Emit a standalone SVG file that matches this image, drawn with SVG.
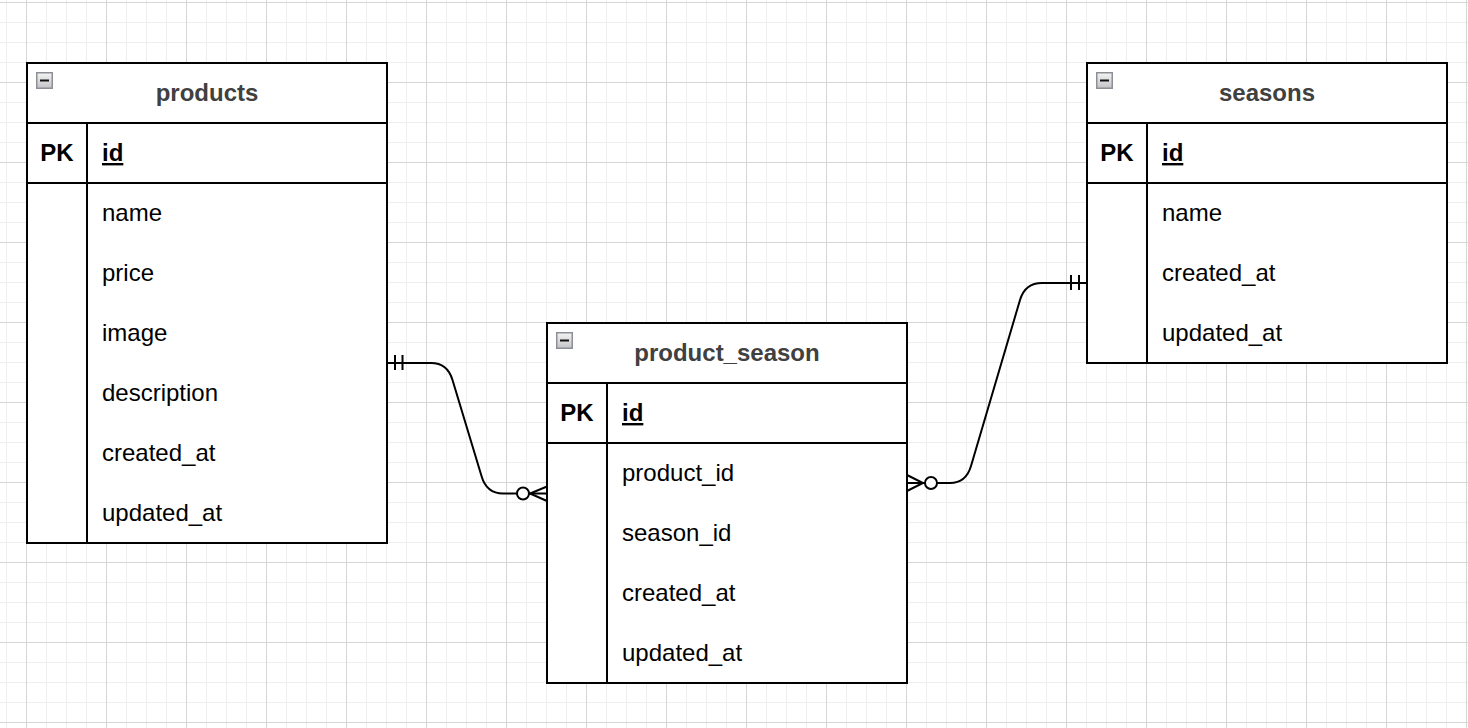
<svg xmlns="http://www.w3.org/2000/svg" width="1468" height="728" viewBox="0 0 1468 728">
<defs>
<pattern id="minor" patternUnits="userSpaceOnUse" x="6" y="2" width="20" height="20"><path d="M0.5,0V20M0,0.5H20" stroke="#eeeeee" stroke-width="1" fill="none"/></pattern>
<pattern id="major" patternUnits="userSpaceOnUse" x="26" y="2" width="80" height="80"><path d="M0.5,0V80M0,0.5H80" stroke="#d6d6d6" stroke-width="1" fill="none"/></pattern>
<linearGradient id="btn" x1="0" y1="0" x2="0" y2="1"><stop offset="0" stop-color="#f4f4f4"/><stop offset="1" stop-color="#c4c4c8"/></linearGradient>
<symbol id="collapse" viewBox="0 0 17 17" width="17" height="17"><rect x="0.75" y="0.75" width="15.5" height="15.5" fill="url(#btn)" stroke="#8c8f96" stroke-width="1.5"/><path d="M4,8.5H13" stroke="#111" stroke-width="2"/></symbol>
</defs>
<style>
.tbl{fill:#ffffff;stroke:#000;stroke-width:2}
.ln{stroke:#000;stroke-width:2;fill:none}
.title{font-family:"Liberation Sans",Arial,sans-serif;font-size:24px;font-weight:bold;fill:#404040;text-anchor:middle}
.pk{font-family:"Liberation Sans",Arial,sans-serif;font-size:24px;font-weight:bold;fill:#000;text-anchor:middle}
.key{font-family:"Liberation Sans",Arial,sans-serif;font-size:24px;font-weight:bold;fill:#000;text-decoration:underline}
.attr{font-family:"Liberation Sans",Arial,sans-serif;font-size:24px;fill:#000}
.edge{stroke:#000;stroke-width:2;fill:none}
.circ{stroke:#000;stroke-width:2;fill:#fff}
</style>
<rect width="1468" height="728" fill="#ffffff"/>
<rect width="1468" height="728" fill="url(#minor)"/>
<rect width="1468" height="728" fill="url(#major)"/>

<g id="connectors">
<g id="edge-products-product_season">
<path class="edge" d="M387,363 H431 Q447.5,363 452.5,380 L481.5,476 Q486.5,493.5 503,493.5 H547"/>
<path class="edge" d="M395,355V370M402.5,355V370"/>
<path class="edge" d="M547,486.5 L530,493.5 L547,501"/>
<circle class="circ" cx="523" cy="493.5" r="6"/>
</g>
<g id="edge-product_season-seasons">
<path class="edge" d="M907,483 H950 Q966,483 971,466 L1020,300 Q1025,283 1042,283 H1087"/>
<path class="edge" d="M1071,275V290M1079,275V290"/>
<path class="edge" d="M907,475 L923,483 L907,491"/>
<circle class="circ" cx="931" cy="483" r="6"/>
</g>
</g>

<g id="products">
<rect class="tbl" x="27" y="63" width="360" height="480"/>
<path class="ln" d="M27,123H387M27,183H387M87,123V543"/>
<use href="#collapse" x="36" y="72"/>
<text class="title" x="207" y="101">products</text>
<text class="pk" x="57" y="161">PK</text>
<text class="key" x="102" y="161">id</text>
<text class="attr" x="102" y="221">name</text>
<text class="attr" x="102" y="281">price</text>
<text class="attr" x="102" y="341">image</text>
<text class="attr" x="102" y="401">description</text>
<text class="attr" x="102" y="461">created_at</text>
<text class="attr" x="102" y="521">updated_at</text>
</g>

<g id="product_season">
<rect class="tbl" x="547" y="323" width="360" height="360"/>
<path class="ln" d="M547,383H907M547,443H907M607,383V683"/>
<use href="#collapse" x="556" y="332"/>
<text class="title" x="727" y="361">product_season</text>
<text class="pk" x="577" y="421">PK</text>
<text class="key" x="622" y="421">id</text>
<text class="attr" x="622" y="481">product_id</text>
<text class="attr" x="622" y="541">season_id</text>
<text class="attr" x="622" y="601">created_at</text>
<text class="attr" x="622" y="661">updated_at</text>
</g>

<g id="seasons">
<rect class="tbl" x="1087" y="63" width="360" height="300"/>
<path class="ln" d="M1087,123H1447M1087,183H1447M1147,123V363"/>
<use href="#collapse" x="1096" y="72"/>
<text class="title" x="1267" y="101">seasons</text>
<text class="pk" x="1117" y="161">PK</text>
<text class="key" x="1162" y="161">id</text>
<text class="attr" x="1162" y="221">name</text>
<text class="attr" x="1162" y="281">created_at</text>
<text class="attr" x="1162" y="341">updated_at</text>
</g>
</svg>
